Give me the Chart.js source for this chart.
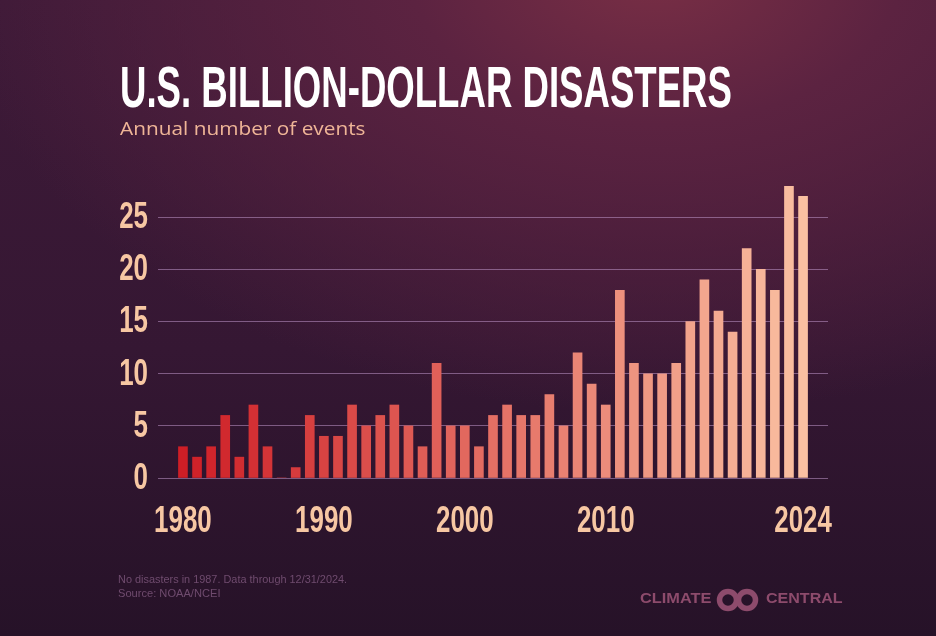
<!DOCTYPE html>
<html>
<head>
<meta charset="utf-8">
<script src="https://cdn.jsdelivr.net/npm/chart.js@4.4.1/dist/chart.umd.min.js"></script>
<style>
  html, body { margin: 0; padding: 0; }
  body {
    width: 936px; height: 636px; overflow: hidden; position: relative;
    background:
      radial-gradient(ellipse 75% 70% at 70% -5%, #7a2f45 0%, #5c2341 35%, rgba(62,26,55,0) 100%),
      linear-gradient(180deg, #3e1a38 0%, #351733 55%, #261228 100%);
  }
  canvas { position: absolute; left: 0; top: 0; }
  .txt { position: absolute; white-space: nowrap; transform-origin: 0 0; }
  #title {
    left: 120px; top: 58px; font-family: "Liberation Sans", sans-serif;
    font-weight: bold; font-size: 58px; line-height: 58px; color: #ffffff;
  }
  #subtitle {
    left: 120px; top: 117px; font-family: "Open Sans", sans-serif; font-size: 18px; line-height: 22px; color: #efb597;
  }
  .note {
    left: 118px; font-family: "Liberation Sans", sans-serif; font-size: 11px; line-height: 13px; color: #6f4b6e;
  }
  .logo {
    top: 590px; font-family: "Liberation Sans", sans-serif; font-weight: bold; font-size: 15px; line-height: 16px; color: #8d4b6c;
  }
  #rings { position: absolute; left: 714px; top: 587px; }
</style>
</head>
<body>
<canvas id="myChart" width="936" height="636"></canvas>
<div id="title" class="txt">U.S. BILLION-DOLLAR DISASTERS</div>
<div id="subtitle" class="txt">Annual number of events</div>
<div id="note1" class="txt note" style="top:573px">No disasters in 1987. Data through 12/31/2024.</div>
<div id="note2" class="txt note" style="top:587px">Source: NOAA/NCEI</div>
<div id="lg1" class="txt logo" style="left:640px">CLIMATE</div>
<svg id="rings" width="48" height="26" viewBox="0 0 48 26"><circle cx="14" cy="13" r="8.5" fill="none" stroke="#8d4b6c" stroke-width="5.5"/><circle cx="33" cy="13" r="8.5" fill="none" stroke="#8d4b6c" stroke-width="5.5"/></svg>
<div id="lg2" class="txt logo" style="left:766px">CENTRAL</div>
<script>
var years = [1980, 1981, 1982, 1983, 1984, 1985, 1986, 1987, 1988, 1989,
             1990, 1991, 1992, 1993, 1994, 1995, 1996, 1997, 1998, 1999,
             2000, 2001, 2002, 2003, 2004, 2005, 2006, 2007, 2008, 2009,
             2010, 2011, 2012, 2013, 2014, 2015, 2016, 2017, 2018, 2019,
             2020, 2021, 2022, 2023, 2024];
var events = [3, 2, 3, 6, 2, 7, 3, 0, 1, 6,
              4, 4, 7, 5, 6, 7, 5, 3, 11, 5,
              5, 3, 6, 7, 6, 6, 8, 5, 12, 9,
              7, 18, 11, 10, 10, 11, 15, 19, 16, 14,
              22, 20, 18, 28, 27];
var xTicks = [1980, 1990, 2000, 2010, 2024];
var yTicks = [0, 5, 10, 15, 20, 25];

// squeeze the html texts to the widths they take in the original
function fit(id, w) {
  var el = document.getElementById(id);
  el.style.transform = 'scaleX(' + (w / el.offsetWidth) + ')';
}
fit('title', 612);
fit('subtitle', 245);
fit('note1', 229);
fit('note2', 102);
fit('lg1', 72);
fit('lg2', 77);

// red -> peach across the years
function barColor(i, n) {
  var a = [206, 30, 38], b = [250, 192, 162];
  var t = i / (n - 1);
  var c = a.map(function (v, k) { return Math.round(v + (b[k] - v) * t); });
  return 'rgb(' + c.join(',') + ')';
}

// condensed tick labels: no narrow font installed, so squeeze them by hand
var narrowTicks = {
  id: 'narrowTicks',
  afterDraw: function (chart) {
    var c = chart.ctx;
    c.save();
    c.fillStyle = '#f7c7a3';
    c.font = 'bold 36px "Liberation Sans", sans-serif';
    c.textBaseline = 'middle';
    var sx = 0.72;
    var ys = chart.scales.y, xs = chart.scales.x;
    ys.ticks.forEach(function (t) {
      c.save();
      c.translate(ys.right - 10, ys.getPixelForValue(t.value));
      c.scale(sx, 1);
      c.textAlign = 'right';
      c.fillText(String(t.value), 0, 1);
      c.restore();
    });
    xs.ticks.forEach(function (t) {
      c.save();
      c.translate(xs.getPixelForValue(t.value), xs.top + 44);
      c.scale(sx, 1);
      c.textAlign = 'center';
      c.fillText(String(t.value), 0, 0);
      c.restore();
    });
    c.restore();
  }
};

var ctx = document.getElementById('myChart').getContext('2d');
var myChart = new Chart(ctx, {
    type: 'bar',
    data: {
        datasets: [{
            data: years.map(function (y, i) { return { x: y, y: events[i] }; }),
            backgroundColor: years.map(function (y, i) { return barColor(i, years.length); }),
            barThickness: 9,
            borderWidth: 0
        }]
    },
    options: {
        responsive: false,
        animation: false,
        layout: { padding: { top: 186, left: 0, right: 108, bottom: 88 } },
        plugins: { legend: { display: false }, tooltip: { enabled: false } },
        scales: {
            x: {
                type: 'linear',
                offset: false,
                min: 1978.23,
                max: 2025.77,
                afterBuildTicks: function (scale) {
                    scale.ticks = xTicks.map(function (v) { return { value: v }; });
                },
                afterFit: function (scale) { scale.height = 70; },
                grid: { display: false },
                border: { display: false },
                ticks: { display: false }
            },
            y: {
                min: 0,
                max: 28,
                afterBuildTicks: function (scale) {
                    scale.ticks = yTicks.map(function (v) { return { value: v }; });
                },
                afterFit: function (scale) { scale.width = 158; },
                grid: { color: 'rgba(190,150,200,0.55)', lineWidth: 1, drawTicks: false },
                border: { display: false },
                ticks: { display: false }
            }
        }
    },
    plugins: [narrowTicks]
});
</script>
</body>
</html>
